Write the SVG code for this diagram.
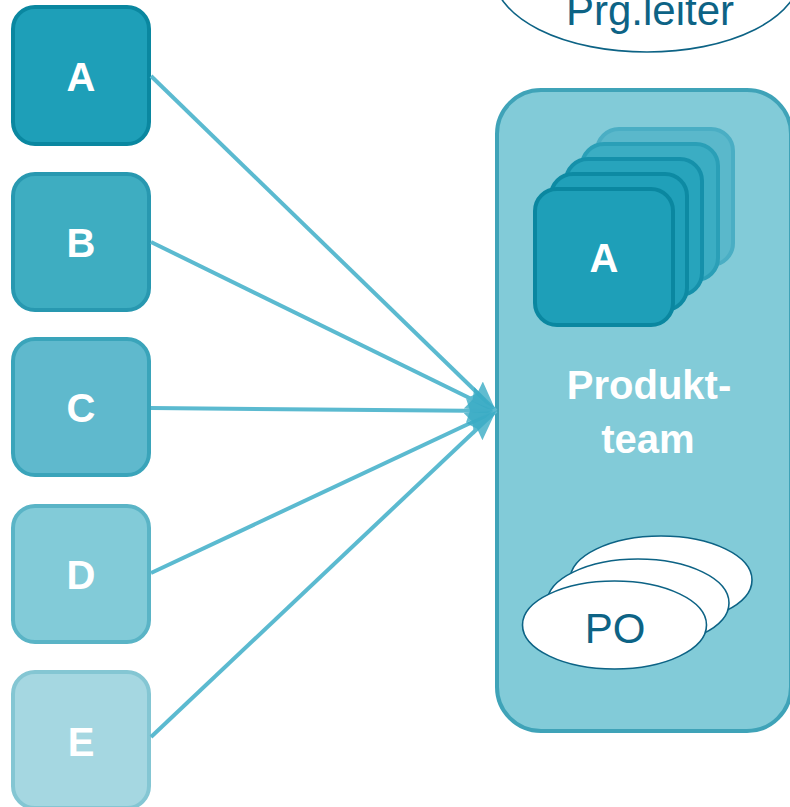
<svg xmlns="http://www.w3.org/2000/svg" width="790" height="807" viewBox="0 0 790 807">
<style>
.box{stroke-width:4}
.lbl{font-family:"Liberation Sans",Arial,sans-serif;font-weight:bold;font-size:40px;fill:#ffffff;text-anchor:middle}
.dk{font-family:"Liberation Sans",Arial,sans-serif;font-size:42px;fill:#0d6385;text-anchor:middle}
.conn{stroke:#5bbad0;stroke-width:4;fill:none}
.ell{fill:#ffffff;stroke:#0d6385;stroke-width:1.6}
</style>
<defs>
<marker id="arr" markerUnits="userSpaceOnUse" markerWidth="34" markerHeight="34" refX="30" refY="16" orient="auto">
<path d="M0,4 L30,16 L0,28 L4,16 Z" fill="#3aabc4" fill-opacity="0.8"/>
</marker>
</defs>
<g id="prgleiter">
<ellipse class="ell" cx="647" cy="-25" rx="153" ry="77"/>
<text class="dk" x="650" y="25">Prg.leiter</text>
</g>
<g id="produktteam">
<rect x="497" y="90" width="294" height="641" rx="44" fill="#82cbd8" stroke="#3fa3b8" stroke-width="4"/>
<text class="lbl" x="649" y="399">Produkt-</text>
<text class="lbl" x="648" y="453">team</text>
</g>
<g id="stack">
<rect class="box" x="597" y="129" width="136" height="136" rx="22" fill="#5ab8cb" stroke="#4aaec4"/>
<rect class="box" x="582" y="144" width="136" height="136" rx="22" fill="#3badc3" stroke="#2a9fb7"/>
<rect class="box" x="566" y="159" width="136" height="136" rx="22" fill="#27a4bc" stroke="#1590aa"/>
<rect class="box" x="551" y="174" width="136" height="136" rx="22" fill="#20a0b9" stroke="#0d8aa3"/>
<rect class="box" x="535" y="189" width="138" height="136" rx="22" fill="#1e9fb8" stroke="#0a87a0"/>
<text class="lbl" x="604" y="272">A</text>
</g>
<g id="po">
<ellipse class="ell" cx="661" cy="580" rx="91" ry="44"/>
<ellipse class="ell" cx="638" cy="603" rx="91" ry="44"/>
<ellipse class="ell" cx="614.5" cy="625" rx="92" ry="44"/>
<text class="dk" x="615" y="643">PO</text>
</g>
<g id="nodeA">
<rect class="box" x="13" y="7" width="136" height="137" rx="22" fill="#1e9fb8" stroke="#0a87a0"/>
<text class="lbl" x="81" y="91">A</text>
</g>
<g id="nodeB">
<rect class="box" x="13" y="174" width="136" height="136" rx="22" fill="#3eadc1" stroke="#2898b0"/>
<text class="lbl" x="81" y="257">B</text>
</g>
<g id="nodeC">
<rect class="box" x="13" y="339" width="136" height="136" rx="22" fill="#5fb9cd" stroke="#3aa4ba"/>
<text class="lbl" x="81" y="422">C</text>
</g>
<g id="nodeD">
<rect class="box" x="13" y="506" width="136" height="136" rx="22" fill="#82cbd8" stroke="#5ab4c6"/>
<text class="lbl" x="81" y="589">D</text>
</g>
<g id="nodeE">
<rect class="box" x="13" y="672" width="136" height="136" rx="22" fill="#a5d7e1" stroke="#84c6d3"/>
<text class="lbl" x="81" y="756">E</text>
</g>
<g id="connectors">
<path class="conn" d="M151,76 L496,411" marker-end="url(#arr)"/>
<path class="conn" d="M151,242 L496,411" marker-end="url(#arr)"/>
<path class="conn" d="M151,408 L496,411" marker-end="url(#arr)"/>
<path class="conn" d="M151,573 L496,411" marker-end="url(#arr)"/>
<path class="conn" d="M151,737 L496,411" marker-end="url(#arr)"/>
</g>
</svg>
